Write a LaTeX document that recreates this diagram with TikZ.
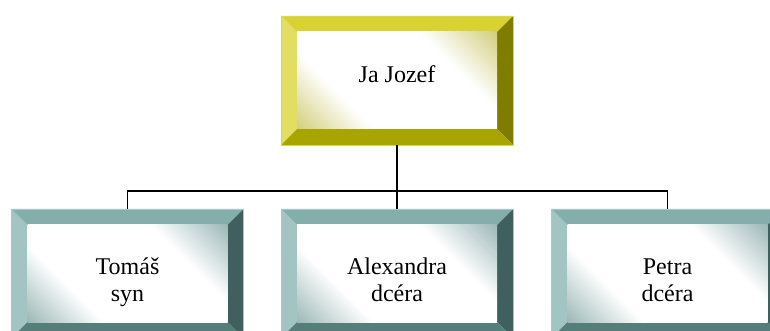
\documentclass[tikz,border=0pt]{standalone}
\usepackage{fontspec}
\setmainfont{Liberation Serif}
\usepackage{tikz}

\definecolor{goldL}{HTML}{E2DE62}
\definecolor{goldT}{HTML}{D8D332}
\definecolor{goldR}{HTML}{7F7D00}
\definecolor{goldB}{HTML}{A8A400}
\definecolor{goldF}{HTML}{CCC86A}
\definecolor{goldE}{HTML}{DCD840}
\definecolor{tealL}{HTML}{A2C5C3}
\definecolor{tealT}{HTML}{83AEAC}
\definecolor{tealR}{HTML}{3F605E}
\definecolor{tealB}{HTML}{557D7A}
\definecolor{tealF}{HTML}{8FAFAD}
\definecolor{tealE}{HTML}{A8C8C6}

\pgfdeclarehorizontalshading{facegold}{100bp}{color(0bp)=(goldF); color(12bp)=(goldF);
  color(33bp)=(white); color(67bp)=(white); color(88bp)=(goldF); color(100bp)=(goldF)}
\pgfdeclarehorizontalshading{faceteal}{100bp}{color(0bp)=(tealF); color(12bp)=(tealF);
  color(33bp)=(white); color(67bp)=(white); color(88bp)=(tealF); color(100bp)=(tealF)}

\newcommand{\liftby}[2]{\raisebox{#1}[\height][\depth]{#2}}

\tikzset{
  bevel/.style n args={6}{shape=rectangle, minimum width=174pt, minimum height=96.75pt,
    inner sep=0pt, draw=#6, line width=0.6pt, font=\fontsize{18}{20.25}\selectfont,
    path picture={
      \coordinate (sw) at (path picture bounding box.south west);
      \coordinate (ne) at (path picture bounding box.north east);
      \coordinate (nw) at (sw|-ne);
      \coordinate (se) at (ne|-sw);
      \coordinate (isw) at ([shift={(12pt,12pt)}]sw);
      \coordinate (ine) at ([shift={(-12pt,-12pt)}]ne);
      \coordinate (inw) at (isw|-ine);
      \coordinate (ise) at (ine|-isw);
      \fill[#1] (sw) -- (nw) -- (inw) -- (isw) -- cycle;
      \fill[#2] (nw) -- (ne) -- (ine) -- (inw) -- cycle;
      \fill[#3] (ne) -- (se) -- (ise) -- (ine) -- cycle;
      \fill[#4] (se) -- (sw) -- (isw) -- (ise) -- cycle;
      \shade[shading=#5, shading angle=45] (isw) rectangle (ine);
    }}
}
\tikzstyle{boss}=[bevel={goldL}{goldT}{goldR}{goldB}{facegold}{goldE}]
\tikzstyle{kid}=[bevel={tealL}{tealT}{tealR}{tealB}{faceteal}{tealE}]
\tikzstyle{link}=[line width=1.1pt, black]

\begin{document}
\begin{tikzpicture}[x=0.75pt, y=-0.75pt]
        \path[use as bounding box, clip] (0,0) rectangle (770,331);
        \node[boss] (jozef) at (397, 80.5) {\liftby{5pt}{Ja Jozef}};
        \node[kid] (tomas) at (127.5, 273.5)
            {\liftby{-6.5pt}{\begin{tabular}{@{}c@{}}Tomáš\\syn\end{tabular}}};
        \node[kid] (alexandra) at (397, 273.5)
            {\liftby{-6.5pt}{\begin{tabular}{@{}c@{}}Alexandra\\dcéra\end{tabular}}};
        \node[kid] (petra) at (667.5, 273.5)
            {\liftby{-6.5pt}{\begin{tabular}{@{}c@{}}Petra\\dcéra\end{tabular}}};
        \coordinate (bar) at (397, 191);
        \draw[link] (jozef.south) -- (bar);
        \draw[link] (tomas.north) |- (bar) -| (petra.north);
        \draw[link] (bar) -- (alexandra.north);
    \end{tikzpicture}
\end{document}
